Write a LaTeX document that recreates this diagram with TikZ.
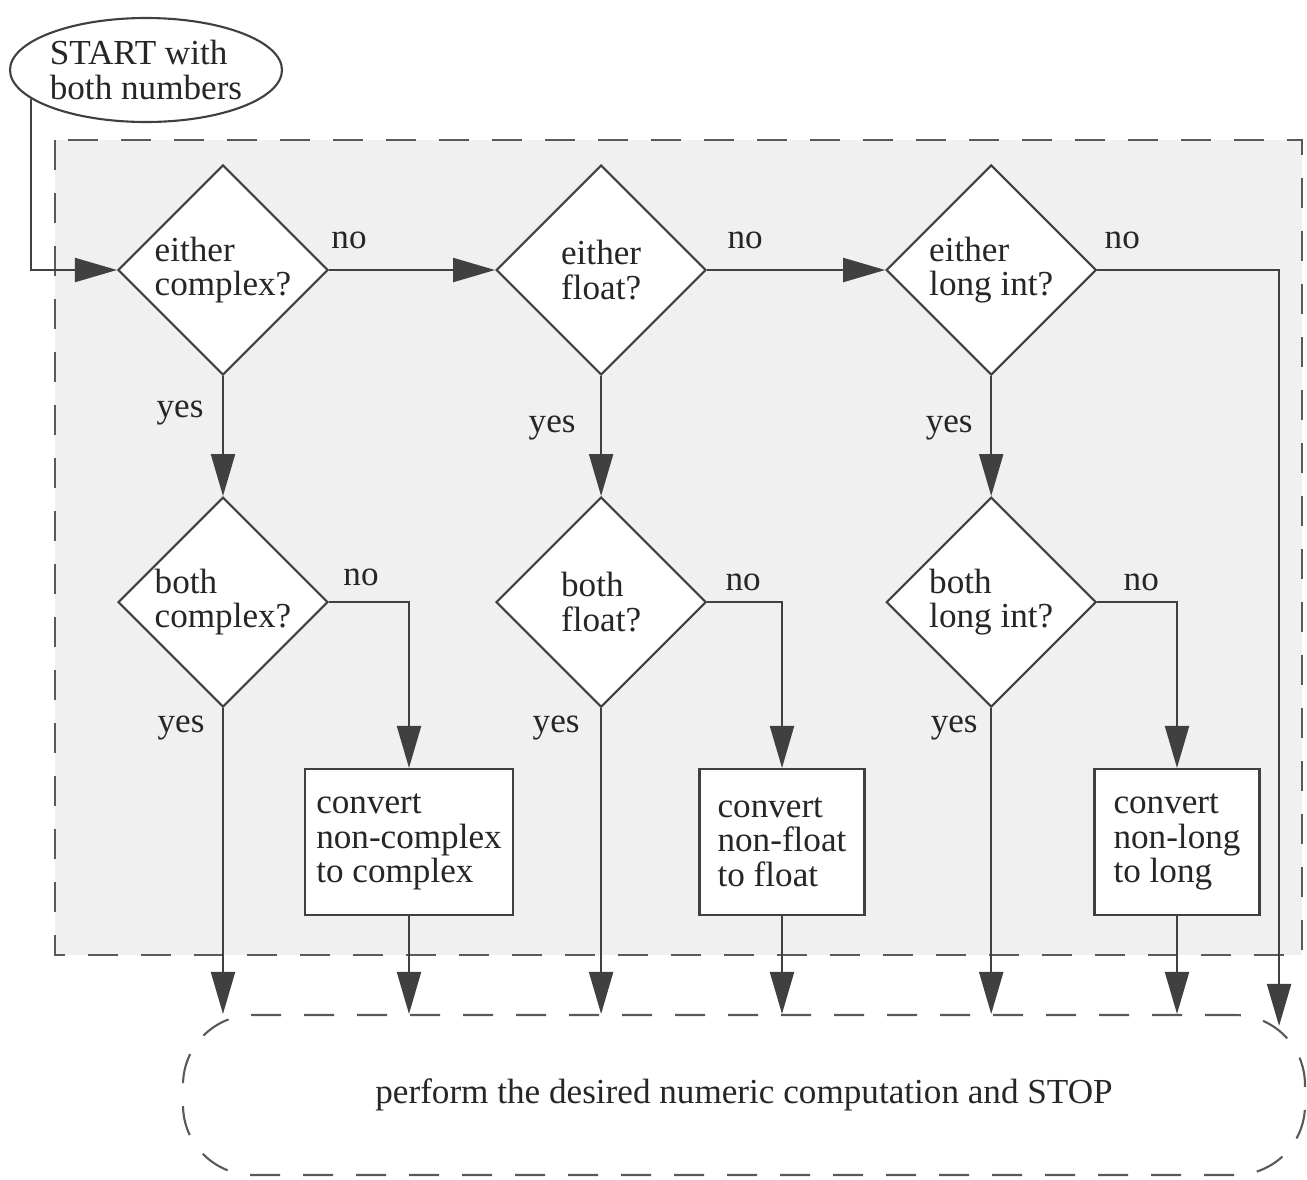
\documentclass[tikz,border=0pt]{standalone}
\usepackage{fontspec}
\setmainfont{Liberation Serif}
\usetikzlibrary{shapes,arrows.meta,positioning}

\begin{document}
\begin{tikzpicture}[x=0.1mm,y=-0.1mm,
  font=\fontsize{10}{9.8}\selectfont,text=black!85,
  line/.style={draw=black!75,line width=0.6pt},
  arrow/.style={line,-{Triangle[length=4.2mm,width=2.4mm]}},
  zone/.style={draw=black!65,line width=0.6pt,dash pattern=on 3mm off 2.3mm},
  decision/.style={diamond,line,fill=white,align=left,inner sep=0pt,minimum width=21mm,minimum height=21mm},
  process/.style={rectangle,line,fill=white,align=left,minimum width=16.5mm,minimum height=14.6mm},
  terminal/.style={ellipse,line,fill=white,align=left,inner sep=0pt,minimum width=27.2mm,minimum height=10.4mm},
  end zone/.style={zone,rectangle,rounded corners=7mm,minimum width=112.2mm,minimum height=16mm},
]
  \colorlet{zone gray}{black!6}
  \useasboundingbox (0,0) rectangle (1307,1179);
  \draw[zone,fill=zone gray] (55,140) rectangle (1302,955);

  \node[terminal] (start) at (146,70) {START with\\both numbers};

  % first row: either ...
  \node[decision] (d1) at (223,270) {either\\complex?};
  \node[decision,right=16.6mm of d1] (d2) {either\\float?};
  \node[decision,right=17.8mm of d2] (d3) {either\\long int?};
  % second row: both ...
  \node[decision,below=12mm of d1] (d4) {both\\complex?};
  \node[decision,below=12mm of d2] (d5) {both\\float?};
  \node[decision,below=12mm of d3] (d6) {both\\long int?};

  \node[process,minimum width=20.8mm] (b1) at (409,842) {convert\\non-complex\\to complex};
  \node[process] (b2) at (782,842) {convert\\non-float\\to float};
  \node[process] (b3) at (1177,842) {convert\\non-long\\to long};

  \node[end zone] (stop) at (744,1095) {perform the desired numeric computation and STOP};
  \coordinate (stopin) at ([xshift=-2.7mm,yshift=-1.2mm]stop.north east);

  \draw[arrow] (start.194) |- (d1.west);
  \draw[arrow] (d1) -- (d2);
  \draw[arrow] (d2) -- (d3);
  \draw[arrow] (d3.east) -| (stopin);
  \draw[arrow] (d1) -- (d4);
  \draw[arrow] (d2) -- (d5);
  \draw[arrow] (d3) -- (d6);
  \draw[arrow] (d4.east) -| (b1.north);
  \draw[arrow] (d5.east) -| (b2.north);
  \draw[arrow] (d6.east) -| (b3.north);
  \draw[arrow] (d4.south) -- (d4.south |- stop.north);
  \draw[arrow] (d5.south) -- (d5.south |- stop.north);
  \draw[arrow] (d6.south) -- (d6.south |- stop.north);
  \draw[arrow] (b1.south) -- (b1.south |- stop.north);
  \draw[arrow] (b2.south) -- (b2.south |- stop.north);
  \draw[arrow] (b3.south) -- (b3.south |- stop.north);

  \node (no1) at ([xshift=2mm,yshift=3mm]d1.east) {no};
  \node (no2) at ([xshift=3.8mm,yshift=3mm]d2.east) {no};
  \node (no3) at ([xshift=2.5mm,yshift=3mm]d3.east) {no};
  \node (no4) at ([xshift=3.2mm,yshift=2.5mm]d4.east) {no};
  \node (no5) at ([xshift=3.6mm,yshift=2mm]d5.east) {no};
  \node (no6) at ([xshift=4.4mm,yshift=2mm]d6.east) {no};
  \node (yes1) at ([xshift=-4.3mm,yshift=-3.7mm]d1.south) {yes};
  \node (yes2) at ([xshift=-4.9mm,yshift=-5.2mm]d2.south) {yes};
  \node (yes3) at ([xshift=-4.2mm,yshift=-5.2mm]d3.south) {yes};
  \node (yes4) at ([xshift=-4.2mm,yshift=-2mm]d4.south) {yes};
  \node (yes5) at ([xshift=-4.5mm,yshift=-2mm]d5.south) {yes};
  \node (yes6) at ([xshift=-3.7mm,yshift=-2mm]d6.south) {yes};
\end{tikzpicture}
\end{document}
